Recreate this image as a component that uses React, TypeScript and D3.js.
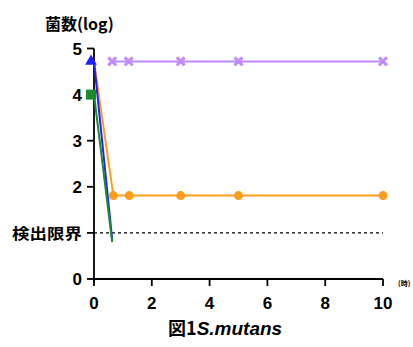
import React from 'react';
import * as d3 from 'd3';

// hours
const purpleX = [0.63, 1.2, 3, 5, 10];
const purpleY = [4.72, 4.72, 4.72, 4.72, 4.72];
const orangeX = [0, 0.67, 1.22, 3, 5, 10];
const orangeY = [4.72, 1.81, 1.81, 1.81, 1.81, 1.81];
const blueX = [0, 0.63];
const blueY = [4.72, 0.85];
const greenX = [0, 0.63];
const greenY = [4.0, 0.8];
const xTicks = [0, 2, 4, 6, 8, 10];
const yTicks = [0, 1, 2, 3, 4, 5];
const detectLimit = 1;

const W = 413;
const H = 347;
const fontJP = '"Noto Sans CJK JP", "DejaVu Sans", sans-serif';
const fontNum = '"Liberation Sans", Arial, sans-serif';

export default function App() {
  const x = d3.scaleLinear().domain([0, 10]).range([94, 383]);
  const y = d3.scaleLinear().domain([0, 5]).range([279, 48.5]);

  const line = d3
    .line<[number, number]>()
    .x((d) => x(d[0]))
    .y((d) => y(d[1]));

  const zip = (a: number[], b: number[]) => a.map((v, i) => [v, b[i]] as [number, number]);
  const purple = zip(purpleX, purpleY);
  const orange = zip(orangeX, orangeY);
  const blue = zip(blueX, blueY);
  const green = zip(greenX, greenY);

  const cPurple = '#c08cff';
  const cOrange = '#ff9c1c';
  const cBlue = '#2020ff';
  const cGreen = '#1b8a2a';

  return (
    <svg width={W} height={H} style={{ position: 'absolute', left: 0, top: 0, background: '#fff' }}>
      {/* title */}
      <text x={45} y={30} fontFamily={fontJP} fontWeight="bold" fontSize={16}>
        菌数(log)
      </text>

      {/* detection limit */}
      <line x1={x(0)} x2={x(10)} y1={y(detectLimit)} y2={y(detectLimit)} stroke="#000" strokeWidth={1.2} strokeDasharray="3,3" />

      {/* axes */}
      <line x1={x(0)} x2={x(0)} y1={y(5)} y2={y(0) + 4} stroke="#000" strokeWidth={1.8} />
      <line x1={x(0)} x2={x(10)} y1={y(0)} y2={y(0)} stroke="#000" strokeWidth={1.8} />
      {yTicks.map((t) => (
        <g key={'y' + t}>
          <line x1={x(0) - 7} x2={x(0)} y1={y(t)} y2={y(t)} stroke="#000" strokeWidth={1.8} />
          {t === detectLimit ? (
            <text x={12} y={y(t) + 6} fontFamily={fontJP} fontWeight="bold" fontSize={15} textLength={70} lengthAdjust="spacingAndGlyphs">
              検出限界
            </text>
          ) : (
            <text x={82} y={y(t) + 6} textAnchor="end" fontFamily={fontNum} fontWeight="bold" fontSize={17}>
              {t}
            </text>
          )}
        </g>
      ))}
      {xTicks.map((t) => (
        <g key={'x' + t}>
          <line x1={x(t)} x2={x(t)} y1={y(0)} y2={y(0) + 7} stroke="#000" strokeWidth={1.8} />
          <text x={x(t)} y={309} textAnchor="middle" fontFamily={fontNum} fontWeight="bold" fontSize={17}>
            {t}
          </text>
        </g>
      ))}
      <text x={398} y={286} fontFamily={fontJP} fontWeight="bold" fontSize={7}>
        (時)
      </text>

      {/* series lines */}
      <path d={line(purple) ?? ''} fill="none" stroke={cPurple} strokeWidth={2} />
      <path d={line(orange) ?? ''} fill="none" stroke={cOrange} strokeWidth={2} />
      <path d={line(blue) ?? ''} fill="none" stroke={cBlue} strokeWidth={2} />
      <path d={line(green) ?? ''} fill="none" stroke={cGreen} strokeWidth={2} />

      {/* markers */}
      {purple.map((d, i) => (
        <g key={'p' + i} transform={`translate(${x(d[0])},${y(d[1])})`} stroke={cPurple} strokeWidth={3}>
          <line x1={-4} y1={-4} x2={4} y2={4} />
          <line x1={-4} y1={4} x2={4} y2={-4} />
        </g>
      ))}
      {orange.slice(1).map((d, i) => (
        <circle key={'o' + i} cx={x(d[0])} cy={y(d[1])} r={4.5} fill={cOrange} />
      ))}
      <path
        d={d3.symbol(d3.symbolTriangle, 60)() ?? ''}
        transform={`translate(${x(blue[0][0]) - 3},${y(blue[0][1])})`}
        fill={cBlue}
      />
      <rect x={x(green[0][0]) - 8} y={y(green[0][1]) - 5} width={10} height={10} fill={cGreen} />

      {/* caption */}
      <text x={168} y={335} fontFamily={fontJP} fontWeight="bold" fontSize={18}>
        図1
        <tspan fontFamily={fontNum} fontStyle="italic" fontSize={19}>S.mutans</tspan>
      </text>
    </svg>
  );
}
